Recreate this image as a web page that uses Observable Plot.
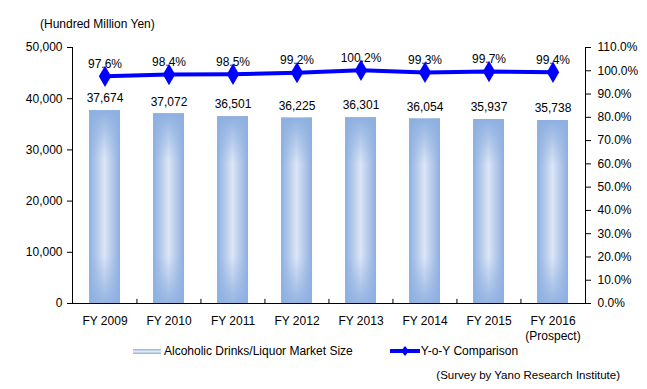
<!DOCTYPE html>
<html>
<head>
<meta charset="utf-8">
<script src="https://cdn.jsdelivr.net/npm/d3@7"></script>
<script src="https://cdn.jsdelivr.net/npm/@observablehq/plot@0.6"></script>
<style>
  body { margin: 0; background: #fff; font-family: "Liberation Sans", Arial, sans-serif; color: #000; }
  #wrap { position: relative; width: 647px; height: 389px; overflow: hidden; }
  #title { position: absolute; left: 40px; top: 17px; font-size: 12px; }
  #chart { position: absolute; left: 0; top: 0; }
  #legend { position: absolute; left: 133px; top: 344px; font-size: 12px; display: flex; align-items: center; }
  #caption { position: absolute; right: 27px; top: 369px; font-size: 11.5px; }
  .sw-bar { width: 28px; height: 5px; background: linear-gradient(to bottom, #8eb0e0, #dfe9f7 50%, #8eb0e0); margin-right: 3px; }
</style>
</head>
<body>
<div id="wrap">
  <div id="title">(Hundred Million Yen)</div>
  <div id="chart"></div>
  <div id="legend">
    <div class="sw-bar"></div><span>Alcoholic Drinks/Liquor Market Size</span>
    <svg width="30" height="12" style="margin-left:37px;margin-right:1px"><line x1="0" y1="6" x2="30" y2="6" stroke="#0000ff" stroke-width="4"/><path d="M15,1 L19,6 L15,11 L11,6 Z" fill="#0000ff"/></svg><span>Y-o-Y Comparison</span>
  </div>
  <div id="caption">(Survey by Yano Research Institute)</div>
</div>
<script>
const years = ["FY 2009", "FY 2010", "FY 2011", "FY 2012", "FY 2013", "FY 2014", "FY 2015", "FY 2016"];
const yearLabels = ["FY 2009", "FY 2010", "FY 2011", "FY 2012", "FY 2013", "FY 2014", "FY 2015", "FY 2016\n(Prospect)"];
const marketSize = [37674, 37072, 36501, 36225, 36301, 36054, 35937, 35738];
const yoy = [97.6, 98.4, 98.5, 99.2, 100.2, 99.3, 99.7, 99.4];
const leftTicks = [0, 10000, 20000, 30000, 40000, 50000];
const rightTicks = [0, 10, 20, 30, 40, 50, 60, 70, 80, 90, 100, 110];

const yMax = 50000, pMax = 110;
const toY = p => p * yMax / pMax;
const data = years.map((y, i) => ({year: y, size: marketSize[i], yoy: yoy[i]}));

const W = 647, H = 344, ML = 72, MR = 62;
const step = (W - ML - MR) / years.length;
const font = "Liberation Sans, Arial, sans-serif";

const chart = Plot.plot({
  width: W, height: H,
  marginLeft: ML, marginRight: MR, marginTop: 47, marginBottom: 41,
  style: {fontFamily: font, fontSize: "12px", color: "#000", background: "transparent", overflow: "visible"},
  x: {type: "band", domain: years, paddingInner: 0.515, paddingOuter: 0.2575, axis: null, label: null},
  y: {domain: [0, yMax], axis: null, label: null},
  marks: [
    Plot.barY(data, {x: "year", y: "size", fill: "url(#barH)"}),
    Plot.barY(data, {x: "year", y: "size", fill: "url(#barV)"}),
    Plot.text(data, {x: "year", y: "size", text: d => d3.format(",")(d.size), dy: -12, fontSize: 12, fill: "#000"}),
    Plot.line(data, {x: "year", y: d => toY(d.yoy), stroke: "#0000ff", strokeWidth: 4}),
    Plot.dot(data, {x: "year", y: d => toY(d.yoy), symbol: "diamond", r: 6.5, fill: "#0000ff", stroke: "none"}),
    Plot.text(data, {x: "year", y: d => toY(d.yoy), text: d => d.yoy.toFixed(1) + "%", dy: -12, fontSize: 12, fill: "#000"}),
    Plot.frame({anchor: "left", stroke: "#000"}),
    Plot.frame({anchor: "right", stroke: "#000"}),
    Plot.frame({anchor: "bottom", stroke: "#000"}),
    Plot.ruleX(years.slice(1), {x: d => d, dx: -step / 2, y1: 0, y2: 800, stroke: "#000"}),
    Plot.axisY(leftTicks, {anchor: "left", label: null, tickFormat: d3.format(","), tickSize: 5, tickPadding: 5, fontSize: 12, stroke: "#000", fill: "#000"}),
    Plot.axisY(rightTicks.map(toY), {anchor: "right", label: null, tickFormat: v => (v * pMax / yMax).toFixed(1) + "%", tickSize: 5, tickPadding: 7, fontSize: 12, stroke: "#000", fill: "#000"}),
    Plot.axisX({anchor: "bottom", label: null, tickSize: 0, tickPadding: 10, tickFormat: d => yearLabels[years.indexOf(d)], fontSize: 12, fill: "#000", lineHeight: 1.3})
  ]
});

const svg = d3.select(chart);
const defs = svg.insert("defs", ":first-child");
const gh = defs.append("linearGradient").attr("id", "barH").attr("x1", "0").attr("x2", "1").attr("y1", "0").attr("y2", "0");
gh.append("stop").attr("offset", "0%").attr("stop-color", "#8cafdf");
gh.append("stop").attr("offset", "50%").attr("stop-color", "#dbe6f6");
gh.append("stop").attr("offset", "100%").attr("stop-color", "#8cafdf");
const gv = defs.append("linearGradient").attr("id", "barV").attr("x1", "0").attr("x2", "0").attr("y1", "0").attr("y2", "1");
gv.append("stop").attr("offset", "0%").attr("stop-color", "#8eb0e0").attr("stop-opacity", 1);
gv.append("stop").attr("offset", "25%").attr("stop-color", "#8eb0e0").attr("stop-opacity", 0);
gv.append("stop").attr("offset", "75%").attr("stop-color", "#8eb0e0").attr("stop-opacity", 0);
gv.append("stop").attr("offset", "100%").attr("stop-color", "#8eb0e0").attr("stop-opacity", 0.9);

document.getElementById("chart").appendChild(chart);
</script>
</body>
</html>
